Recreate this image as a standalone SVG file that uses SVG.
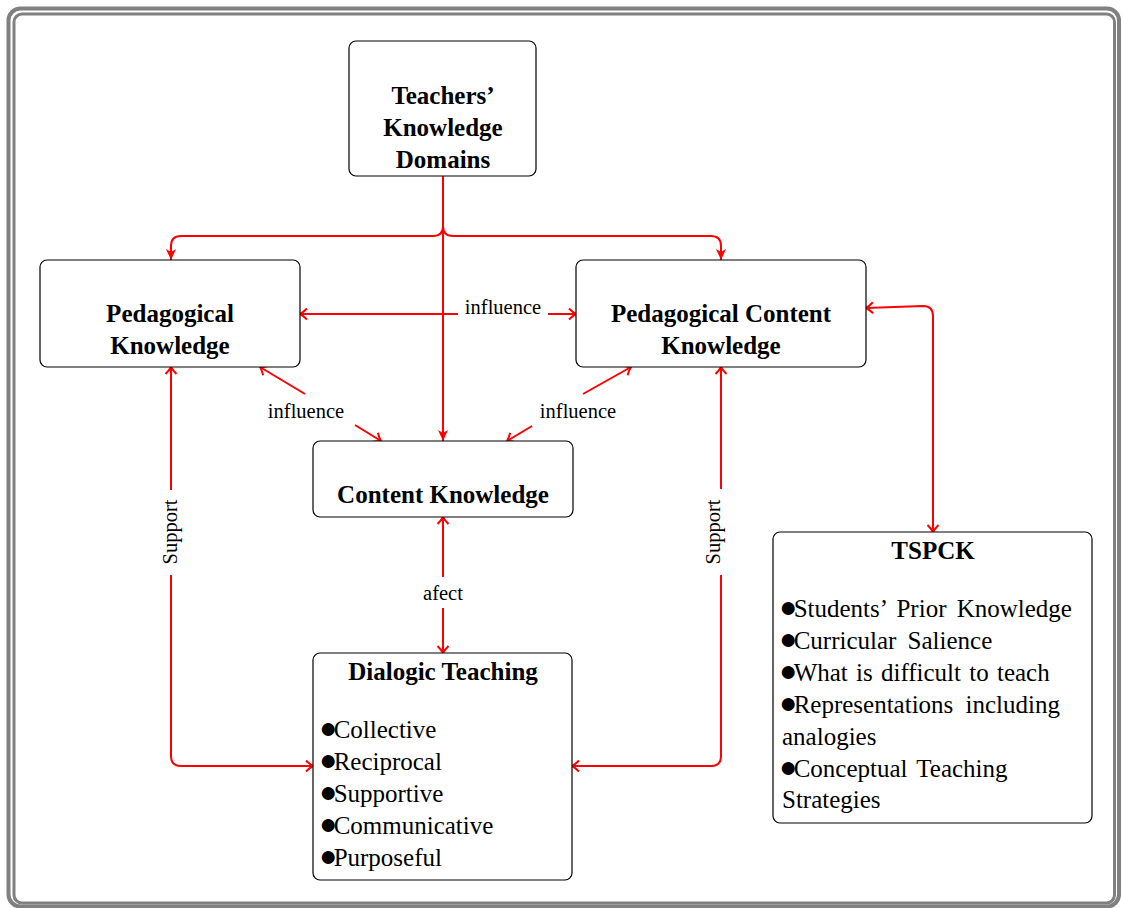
<svg xmlns="http://www.w3.org/2000/svg" width="1123" height="908" viewBox="0 0 1123 908">
<style>
.frame{fill:none;stroke:#808080}
.node{fill:#fff;stroke:#000;stroke-width:1.2}
.t{font-family:"Liberation Serif","Times New Roman",serif;font-size:25px;fill:#000}
.b{font-weight:bold;text-anchor:middle}
.lbl{font-family:"Liberation Serif","Times New Roman",serif;font-size:20.5px;fill:#000;text-anchor:middle}
.c{fill:none;stroke:#ff0000;stroke-width:2}
.bul{font-size:30px;letter-spacing:-3.5px}
</style>
<defs>
<marker id="fa" viewBox="-12 -6 14 12" refX="0" refY="0" markerWidth="14" markerHeight="12" markerUnits="userSpaceOnUse" orient="auto">
<path d="M-11,-5 L0,0 L-11,5 L-8,0 Z" fill="#ff0000"/>
</marker>
<marker id="oa" viewBox="-10 -7 12 14" refX="0" refY="0" markerWidth="12" markerHeight="14" markerUnits="userSpaceOnUse" orient="auto-start-reverse">
<path d="M-7,-5.5 Q-3,-1.5 0,0 Q-3,1.5 -7,5.5" fill="none" stroke="#ff0000" stroke-width="2"/>
</marker>
</defs>
<rect width="1123" height="908" fill="#fff"/>
<rect class="frame" x="8.5" y="8.5" width="1110.5" height="898" rx="12" stroke-width="4"/>
<rect class="frame" x="14" y="14" width="1100.5" height="889" rx="8" stroke-width="3"/>

<g id="connectors">
<path class="c" d="M443,176 L443,226 Q443,236 433,236 L181,236 Q171,236 171,246 L171,260" marker-end="url(#fa)"/>
<path class="c" d="M443,176 L443,226 Q443,236 453,236 L711,236 Q721,236 721,246 L721,260" marker-end="url(#fa)"/>
<path class="c" d="M443,176 L443,441" marker-end="url(#fa)"/>
<path class="c" d="M300,314 L458,314" marker-start="url(#oa)"/>
<path class="c" d="M548,314 L576,314" marker-end="url(#oa)"/>
<text class="lbl" x="503" y="314">influence</text>
<path class="c" d="M260,367 L305,394" marker-start="url(#oa)"/>
<path class="c" d="M355,425 L381,441" marker-end="url(#oa)"/>
<text class="lbl" x="306" y="418">influence</text>
<path class="c" d="M631,367 L583,394" marker-start="url(#oa)"/>
<path class="c" d="M532,426 L507,441" marker-end="url(#oa)"/>
<text class="lbl" x="578" y="418">influence</text>
<path class="c" d="M171,367 L171,490" marker-start="url(#oa)"/>
<path class="c" d="M171,575 L171,756 Q171,766 181,766 L313,766" marker-end="url(#oa)"/>
<text class="lbl" transform="translate(177,532) rotate(-90)">Support</text>
<path class="c" d="M721,367 L721,489" marker-start="url(#oa)"/>
<path class="c" d="M721,575 L721,756 Q721,766 711,766 L572,766" marker-end="url(#oa)"/>
<text class="lbl" transform="translate(720,532) rotate(-90)">Support</text>
<path class="c" d="M443,517 L443,577" marker-start="url(#oa)"/>
<path class="c" d="M443,608 L443,653" marker-end="url(#oa)"/>
<text class="lbl" x="443" y="600">afect</text>
<path class="c" d="M866,308 L923,306 Q933,306 933,316 L933,532" marker-start="url(#oa)" marker-end="url(#oa)"/>
</g>

<g id="teachers">
<rect class="node" x="349" y="41" width="187" height="135" rx="7"/>
<text class="t b" x="443" y="104">Teachers’</text>
<text class="t b" x="443" y="136">Knowledge</text>
<text class="t b" x="443" y="168">Domains</text>
</g>

<g id="pk">
<rect class="node" x="40" y="260" width="260" height="107" rx="7"/>
<text class="t b" x="170" y="322">Pedagogical</text>
<text class="t b" x="170" y="354">Knowledge</text>
</g>

<g id="pck">
<rect class="node" x="576" y="260" width="290" height="107" rx="7"/>
<text class="t b" x="721" y="322">Pedagogical Content</text>
<text class="t b" x="721" y="354">Knowledge</text>
</g>

<g id="ck">
<rect class="node" x="313" y="441" width="260" height="76" rx="7"/>
<text class="t b" x="443" y="503">Content Knowledge</text>
</g>

<g id="dialogic">
<rect class="node" x="313" y="653" width="259" height="227" rx="7"/>
<text class="t b" x="443" y="680">Dialogic Teaching</text>
<text class="t" x="319" y="738"><tspan class="bul">●</tspan>Collective</text>
<text class="t" x="319" y="770"><tspan class="bul">●</tspan>Reciprocal</text>
<text class="t" x="319" y="802"><tspan class="bul">●</tspan>Supportive</text>
<text class="t" x="319" y="834"><tspan class="bul">●</tspan>Communicative</text>
<text class="t" x="319" y="866"><tspan class="bul">●</tspan>Purposeful</text>
</g>

<g id="tspck">
<rect class="node" x="773" y="532" width="319" height="291" rx="7"/>
<text class="t b" x="933" y="559">TSPCK</text>
<text class="t" x="779" y="617" word-spacing="4"><tspan class="bul">●</tspan>Students’ Prior Knowledge</text>
<text class="t" x="779" y="649" word-spacing="5"><tspan class="bul">●</tspan>Curricular Salience</text>
<text class="t" x="779" y="681" word-spacing="2"><tspan class="bul">●</tspan>What is difficult to teach</text>
<text class="t" x="779" y="713" word-spacing="6"><tspan class="bul">●</tspan>Representations including</text>
<text class="t" x="782" y="745">analogies</text>
<text class="t" x="779" y="777" word-spacing="3"><tspan class="bul">●</tspan>Conceptual Teaching</text>
<text class="t" x="782" y="808">Strategies</text>
</g>
</svg>
